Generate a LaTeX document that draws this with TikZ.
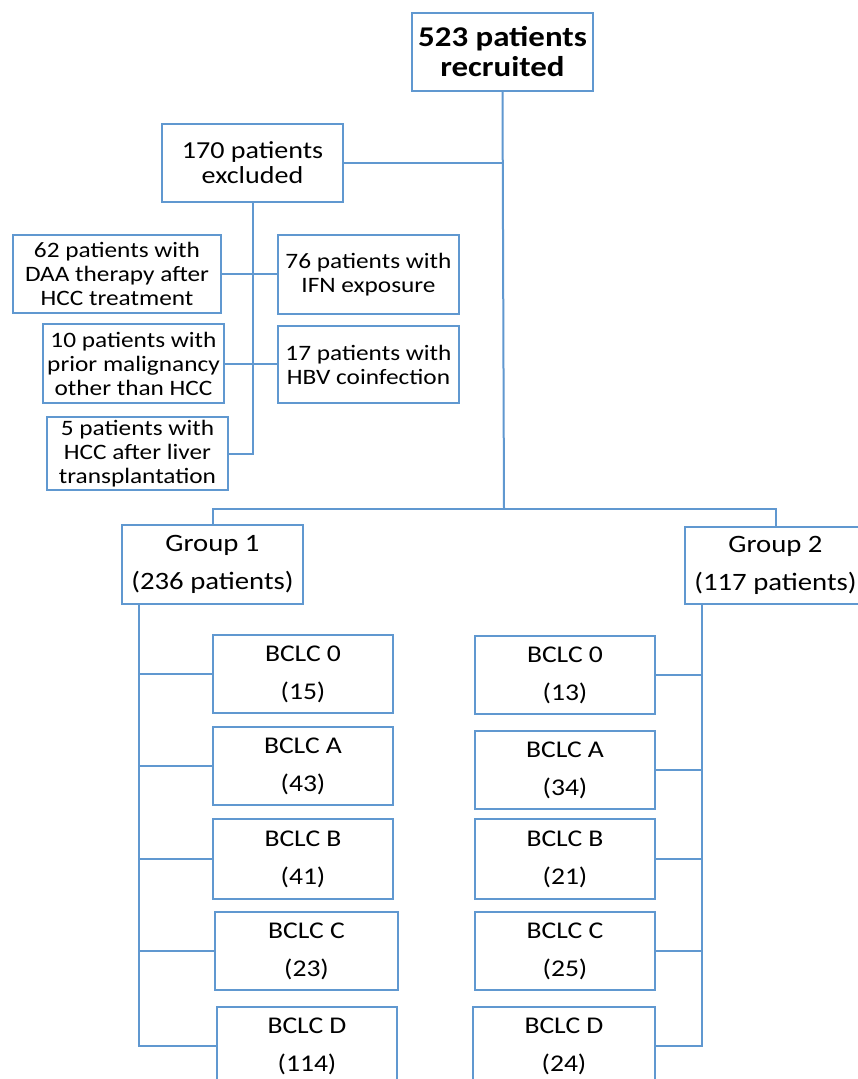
\documentclass[tikz,border=0pt]{standalone}
\usepackage{fontspec}
\setmainfont{Carlito}[FakeStretch=1.15]
\definecolor{lineblue}{RGB}{96,152,208}
\begin{document}
\begin{tikzpicture}[x=1pt,y=-1pt,
  box/.style={draw=lineblue,line width=2.2pt,fill=white,inner sep=0pt,align=center,text=black},
  wbox/.style={box,minimum width=181pt,minimum height=78pt},
  conn/.style={draw=lineblue,line width=2pt},
  topfont/.style={font=\fontsize{28.6}{30}\selectfont\bfseries},
  exfont/.style={font=\fontsize{24.4}{25}\selectfont},
  smallfont/.style={font=\fontsize{22}{24}\selectfont},
  grpfont/.style={font=\fontsize{25}{38}\selectfont},
  bclcfont/.style={font=\fontsize{24}{38}\selectfont}]
\useasboundingbox (0,0) rectangle (857,1079);
\fill[white] (0,0) rectangle (857,1079);
% top
\node[wbox,topfont] (top) at (502.5,52) {523 patients\\recruited};
\node[wbox,exfont] (excl) at (252.5,163) {170 patients\\excluded};
% exclusions
\node[box,smallfont,minimum width=208pt,minimum height=78pt] (daa) at (117,274) {62 patients with\\DAA therapy after\\HCC treatment};
\node[box,smallfont,minimum width=181pt,minimum height=79pt] (ifn) at (368.5,274.5) {76 patients with\\IFN exposure};
\node[box,smallfont,minimum width=181pt,minimum height=79pt] (mal) at (133.5,363.5) {10 patients with\\prior malignancy\\other than HCC};
\node[box,smallfont,minimum width=181pt,minimum height=77pt] (hbv) at (368.5,364.5) {17 patients with\\HBV coinfection};
\node[box,smallfont,minimum width=181pt,minimum height=73pt] (ltx) at (137.5,453.5) {5 patients with\\HCC after liver\\transplantation};
% groups
\node[wbox,grpfont,minimum height=79pt] (g1) at (212.5,564.5) {Group 1\\(236 patients)};
\node[wbox,grpfont,minimum height=77pt] (g2) at (775.5,565.5) {Group 2\\(117 patients)};
% BCLC left
\node[wbox,bclcfont,minimum width=180pt] (L0) at (303,674) {BCLC 0\\(15)};
\node[wbox,bclcfont,minimum width=180pt] (LA) at (303,766) {BCLC A\\(43)};
\node[wbox,bclcfont,minimum width=180pt,minimum height=80pt] (LB) at (303,859) {BCLC B\\(41)};
\node[wbox,bclcfont,minimum width=183pt] (LC) at (306.5,951) {BCLC C\\(23)};
\node[wbox,bclcfont,minimum width=180pt] (LD) at (307,1046) {BCLC D\\(114)};
% BCLC right
\node[wbox,bclcfont,minimum width=180pt] (R0) at (565,675) {BCLC 0\\(13)};
\node[wbox,bclcfont,minimum width=180pt] (RA) at (565,770) {BCLC A\\(34)};
\node[wbox,bclcfont,minimum width=180pt,minimum height=80pt] (RB) at (565,859) {BCLC B\\(21)};
\node[wbox,bclcfont,minimum width=180pt] (RC) at (565,951) {BCLC C\\(25)};
\node[wbox,bclcfont,minimum width=182pt] (RD) at (564,1046) {BCLC D\\(24)};
% connectors
\coordinate (j) at (504,509);
\draw[conn] (top.south) -- (j);
\draw[conn] (g1.north) |- (j) -| (g2.north);
\draw[conn] (excl.east) -- (excl.east -| j);
\draw[conn] (excl.south) |- (ltx.east);
\draw[conn] (daa.east) -- (daa.east -| ifn.west);
\draw[conn] (mal.east) -- (mal.east -| hbv.west);
\coordinate (ls) at ([xshift=18pt]g1.south west);
\draw[conn] (ls) |- (LD.west);
\foreach \n in {L0,LA,LB,LC} {\draw[conn] (\n.west) -- (\n.west -| ls);}
\coordinate (rs) at ([xshift=18pt]g2.south west);
\draw[conn] (rs) |- (RD.east);
\foreach \n in {R0,RA,RB,RC} {\draw[conn] (\n.east) -- (\n.east -| rs);}
\end{tikzpicture}
\end{document}
